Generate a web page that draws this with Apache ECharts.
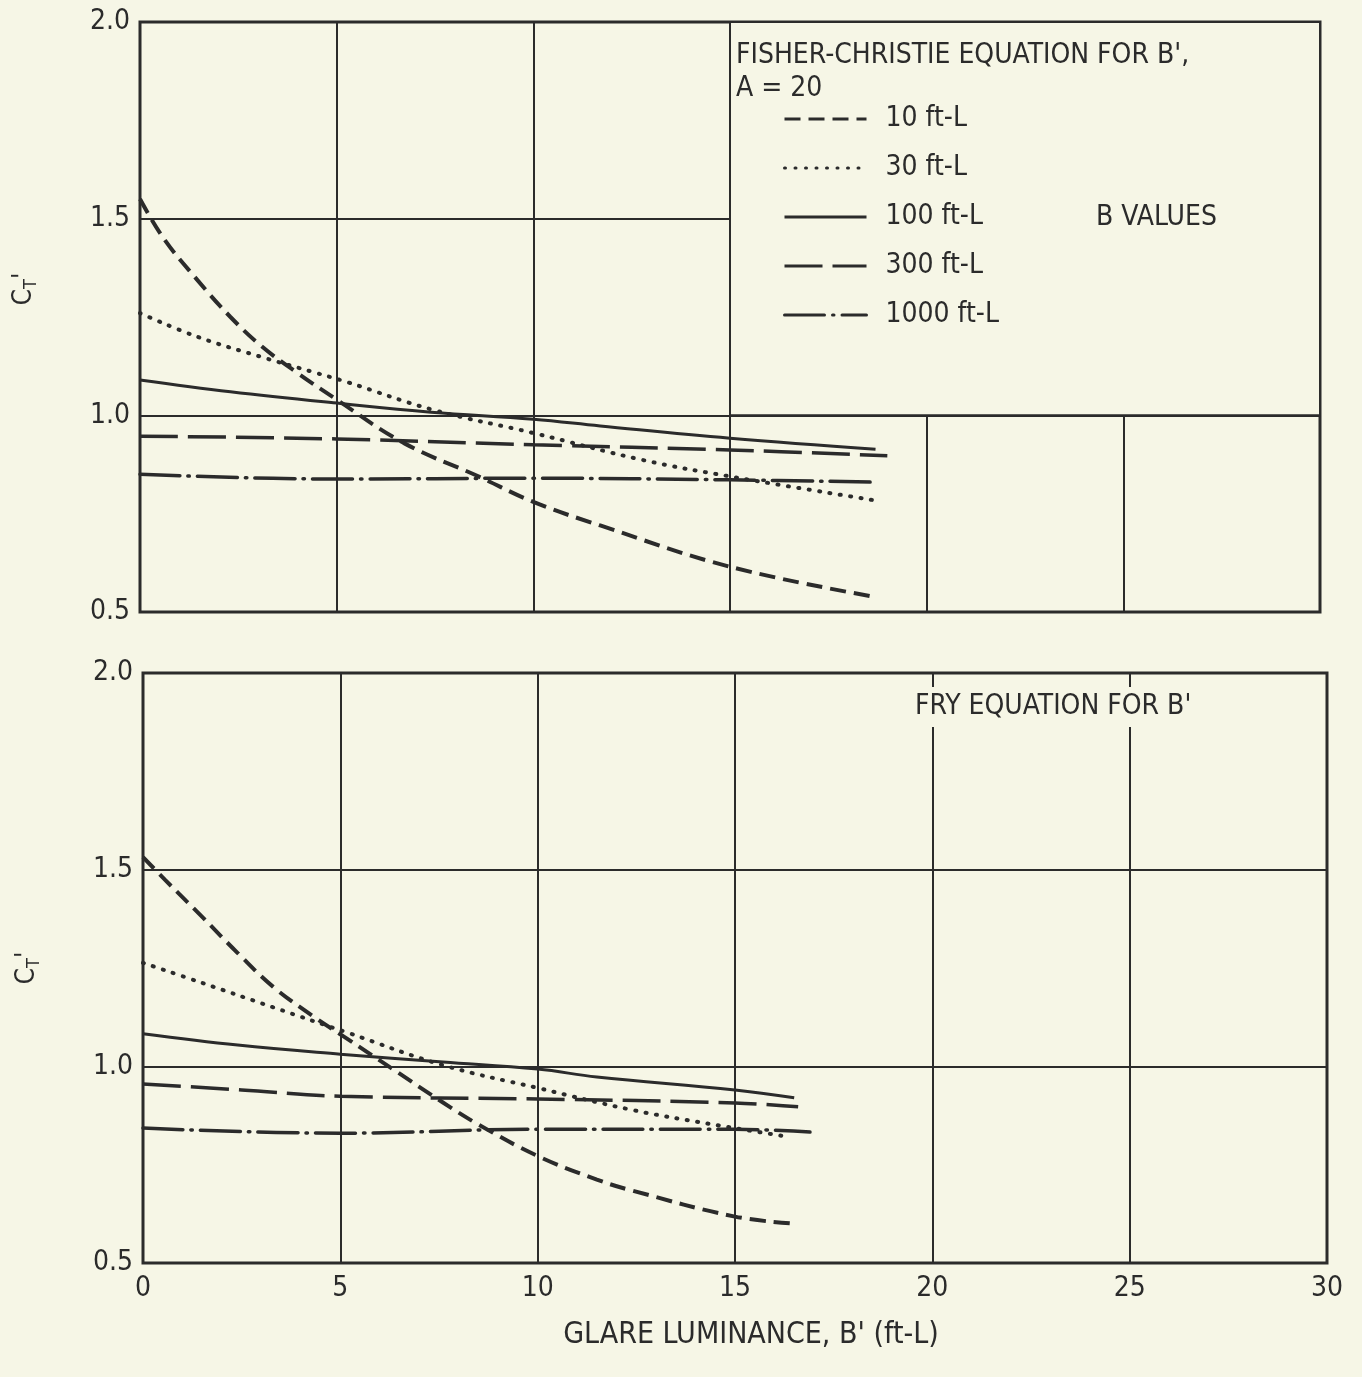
<!DOCTYPE html>
<html>
<head>
<meta charset="utf-8">
<title>CT' vs glare luminance</title>
<script src="https://cdn.jsdelivr.net/npm/echarts@6/dist/echarts.min.js"></script>
<style>
	html, body {margin: 0; padding: 0; background: #f6f6e6;}
	#main {width: 1362px; height: 1377px;}
</style>
</head>
<body>
<div id="main"></div>
<script>
//series names (B values)
var seriesNames = ['10 ft-L', '30 ft-L', '100 ft-L', '300 ft-L', '1000 ft-L'];

//upper panel: Fisher-Christie equation, [B', CT']
var fc10 = [[0, 1.55], [0.6, 1.45], [1.45, 1.345], [2.3, 1.25], [3.1, 1.175], [4, 1.108], [5, 1.04], [6.7, 0.93], [8.6, 0.845], [10, 0.78], [11.7, 0.72], [15, 0.615], [18.6, 0.54]];
var fc30 = [[0, 1.26], [1.45, 1.2], [3.1, 1.148], [4.4, 1.11], [5.25, 1.085], [7.45, 1.014], [10, 0.955], [12.8, 0.886], [15.1, 0.843], [18.8, 0.782]];
var fc100 = [[0, 1.09], [2.3, 1.06], [5.1, 1.03], [7.4, 1.008], [10, 0.99], [11.7, 0.973], [15, 0.942], [18.7, 0.914]];
var fc300 = [[0, 0.947], [5, 0.94], [10, 0.925], [15, 0.912], [19, 0.897]];
var fc1000 = [[0, 0.85], [5, 0.838], [10, 0.84], [15, 0.836], [18.7, 0.83]];

//lower panel: Fry equation
var fry10 = [[0, 1.532], [0.56, 1.474], [1.5, 1.38], [2.4, 1.288], [3.3, 1.202], [4.3, 1.128], [5.1, 1.075], [6.3, 0.995], [7.6, 0.908], [8.5, 0.852], [10, 0.772], [11.5, 0.712], [12.4, 0.684], [15, 0.618], [16.5, 0.6]];
var fry30 = [[0, 1.263], [1.5, 1.212], [3.3, 1.15], [5.2, 1.085], [7.6, 1.003], [10, 0.945], [12.4, 0.889], [14.4, 0.853], [16.4, 0.82]];
var fry100 = [[0, 1.083], [2.4, 1.054], [5, 1.031], [7.6, 1.011], [10, 0.993], [11.5, 0.973], [15, 0.94], [16.5, 0.92]];
var fry300 = [[0, 0.955], [2.5, 0.94], [5, 0.924], [10, 0.917], [15, 0.907], [16.6, 0.897]];
var fry1000 = [[0, 0.843], [5, 0.83], [10, 0.84], [15, 0.84], [16.9, 0.833]];

var xMin = 0, xMax = 30, xStep = 5;
var yMin = 0.5, yMax = 2.0, yStep = 0.5;

var ink = '#2b2b2b';
var paper = '#f6f6e6';
var font = '"DejaVu Sans Condensed", "Liberation Sans Narrow", sans-serif';

//line patterns, same order as seriesNames
var dashes = [
	{type: [16, 8], width: 4, cap: 'butt'},
	{type: [1, 9.5], width: 4, cap: 'round'},
	{type: 'solid', width: 3, cap: 'butt'},
	{type: [38, 10], width: 3.5, cap: 'butt'},
	{type: [40, 8, 1.5, 8], width: 3.5, cap: 'round'}
];

var makeSeries = function(idx, list) {
	var out = [];
	for (var i = 0; i < list.length; i++) {
		out.push({
			name: seriesNames[i],
			type: 'line',
			xAxisIndex: idx,
			yAxisIndex: idx,
			data: list[i],
			smooth: 0.4,
			symbol: 'none',
			silent: true,
			itemStyle: {color: ink},
			lineStyle: {color: ink, width: dashes[i].width, type: dashes[i].type, cap: dashes[i].cap}
		});
	}
	return out;
};

var xAxisOf = function(idx, showLabels) {
	return {
		gridIndex: idx,
		type: 'value',
		min: xMin, max: xMax, interval: xStep,
		axisLine: {show: false},
		axisTick: {show: false},
		axisLabel: {show: showLabels, color: ink, fontSize: 28, fontFamily: font, margin: 12},
		splitLine: {show: true, lineStyle: {color: ink, width: 2}},
		name: showLabels ? "GLARE LUMINANCE, B' (ft-L)" : '',
		nameLocation: 'middle',
		nameGap: 57,
		nameTextStyle: {color: ink, fontSize: 30, fontFamily: font, padding: [0, 0, 0, 32]}
	};
};

var yAxisOf = function(idx) {
	return {
		gridIndex: idx,
		type: 'value',
		min: yMin, max: yMax, interval: yStep,
		axisLine: {show: false},
		axisTick: {show: false},
		axisLabel: {color: ink, fontSize: 28, fontFamily: font, margin: 10, formatter: function(v) {return v.toFixed(1);}},
		splitLine: {show: true, lineStyle: {color: ink, width: 2}},
		name: "{c|C}{t|T}{c|'}",
		nameLocation: 'middle',
		nameRotate: 90,
		nameGap: 100,
		nameTextStyle: {
			color: ink,
			fontFamily: font,
			padding: [0, 0, 0, idx === 0 ? 56 : 0],
			rich: {
				c: {fontSize: 26, fontFamily: font, color: ink},
				t: {fontSize: 18, fontFamily: font, color: ink, padding: [14, 0, 0, 0]}
			}
		}
	};
};

var topSeries = makeSeries(0, [fc10, fc30, fc100, fc300, fc1000]);
//blank box behind the legend text in the upper panel
topSeries[0].markArea = {
	silent: true,
	itemStyle: {color: paper, opacity: 1, borderColor: ink, borderWidth: 2},
	data: [[{xAxis: 15, yAxis: 1.0}, {xAxis: 30, yAxis: 2.0}]]
};

var option = {
	backgroundColor: paper,
	animation: false,
	textStyle: {fontFamily: font},
	title: [{
		text: "FISHER-CHRISTIE EQUATION FOR B',\nA = 20",
		left: 736, top: 39, padding: 0,
		textStyle: {color: ink, fontSize: 28, fontWeight: 'normal', fontFamily: font, lineHeight: 33}
	}, {
		text: 'B VALUES',
		left: 1096, top: 204, padding: 0,
		textStyle: {color: ink, fontSize: 28, fontWeight: 'normal', fontFamily: font}
	}, {
		text: "FRY EQUATION FOR B'",
		left: 905, top: 687, padding: [6, 10],
		backgroundColor: paper,
		textStyle: {color: ink, fontSize: 28, fontWeight: 'normal', fontFamily: font}
	}],
	legend: {
		data: seriesNames,
		orient: 'vertical',
		left: 783, top: 105,
		padding: 0,
		itemWidth: 82, itemHeight: 14,
		itemGap: 21,
		selectedMode: false,
		itemStyle: {opacity: 0},
		lineStyle: {width: 3},
		textStyle: {color: ink, fontSize: 28, fontFamily: font, lineHeight: 28, padding: [0, 0, 0, 14]}
	},
	grid: [{
		left: 140, right: 42, top: 22, bottom: 765,
		show: true, borderColor: ink, borderWidth: 3, backgroundColor: 'transparent'
	}, {
		left: 143, right: 35, top: 673, bottom: 114,
		show: true, borderColor: ink, borderWidth: 3, backgroundColor: 'transparent'
	}],
	xAxis: [xAxisOf(0, false), xAxisOf(1, true)],
	yAxis: [yAxisOf(0), yAxisOf(1)],
	series: topSeries.concat(makeSeries(1, [fry10, fry30, fry100, fry300, fry1000]))
};

var chart = echarts.init(document.getElementById('main'));
chart.setOption(option);
</script>
</body>
</html>
